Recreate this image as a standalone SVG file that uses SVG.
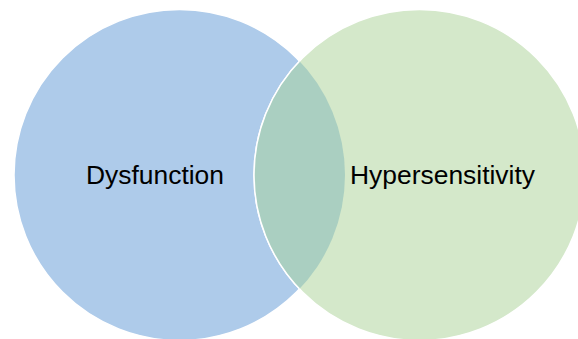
<svg xmlns="http://www.w3.org/2000/svg" width="578" height="339" viewBox="0 0 578 339">
  <style>
    .label { font-family: "Liberation Sans", Arial, sans-serif; font-size: 26.4px; fill: #000000; }
    .ring { stroke: #ffffff; stroke-width: 1.5; }
  </style>
  <defs>
    <clipPath id="clip-left">
      <circle cx="179.5" cy="175" r="165.5"/>
    </clipPath>
  </defs>
  <rect width="578" height="339" fill="#ffffff"/>
  <g id="node-dysfunction">
    <circle class="ring" cx="179.5" cy="175" r="165.5" fill="#aecbea"/>
  </g>
  <g id="node-hypersensitivity">
    <circle class="ring" cx="419.5" cy="175" r="165.5" fill="#d4e8ca"/>
    <!-- overlap lens -->
    <circle cx="419.5" cy="175" r="165.5" fill="#aacfc1" clip-path="url(#clip-left)"/>
    <circle cx="419.5" cy="175" r="165.5" fill="none" stroke="#ffffff" stroke-width="1.5" clip-path="url(#clip-left)"/>
  </g>
  <g id="connectors"/>
  <g id="labels">
    <text class="label" x="86" y="184" textLength="138" lengthAdjust="spacingAndGlyphs">Dysfunction</text>
    <text class="label" x="350" y="184" textLength="185" lengthAdjust="spacingAndGlyphs">Hypersensitivity</text>
  </g>
</svg>
